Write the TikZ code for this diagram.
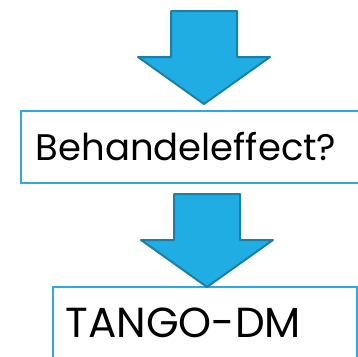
\documentclass[tikz,border=0pt]{standalone}
\usepackage{fontspec}
\setmainfont{Poppins}
\usetikzlibrary{positioning}
\definecolor{arrowfill}{HTML}{1FADE4}
\definecolor{arrowline}{HTML}{1A7FA9}
\definecolor{boxline}{HTML}{2DAAE1}

\begin{document}
\begin{tikzpicture}[
    x=1pt, y=-1pt,
    box/.style        = {draw=boxline, line width=1.5pt, rectangle, anchor=north west,
                         minimum height=72pt, align=left},
    blockarrow/.style = {fill=arrowfill, draw=arrowline, line width=2pt, line join=round},
    every node/.style = {font=\fontsize{37}{40}\selectfont},
]
\useasboundingbox (0,0) rectangle (358,356);
\clip (0,0) rectangle (358,356);

\node [box, inner xsep=15pt, text width=322pt] (effect) at (20,110) {Behandeleffect?};
\node [box, inner xsep=13pt, text width=278pt,
       font=\fontsize{42}{46}\selectfont] (tango) at (52,286) {TANGO-DM};

% arrows
\coordinate (tipa) at (204,104);
\coordinate (tipb) at (207,287);
\foreach \t in {tipa,tipb}
  \draw [blockarrow] (\t) -- ++(66,-47) -- ++(-33,0) -- ++(0,-46)
    -- ++(-66,0) -- ++(0,46) -- ++(-33,0) -- cycle;
\end{tikzpicture}
\end{document}
